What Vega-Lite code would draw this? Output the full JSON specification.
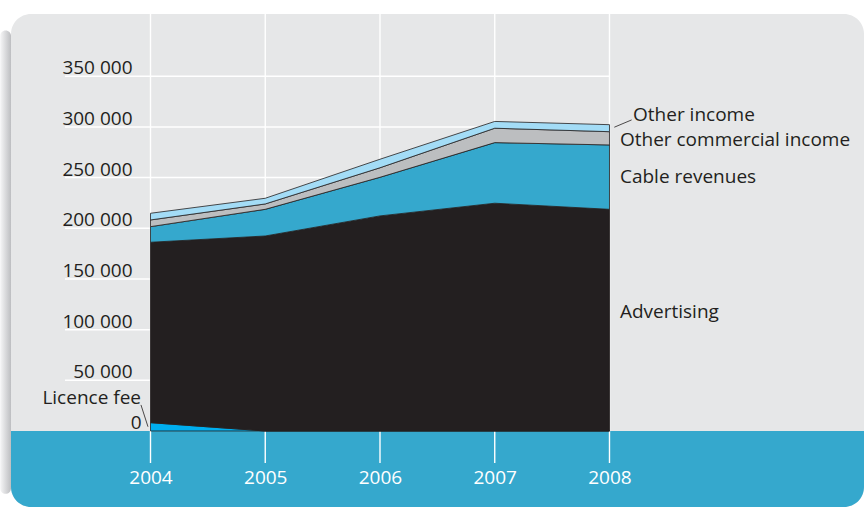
{
  "$schema": "https://vega.github.io/schema/vega-lite/v6.json",
  "width": 853,
  "height": 493,
  "autosize": {"type": "none"},
  "padding": {"left": 11, "top": 14, "right": 0, "bottom": 2},
  "background": "white",
  "config": {
    "view": {"stroke": null, "fill": "#e6e7e8", "cornerRadius": 20},
    "font": "Open Sans",
    "text": {"font": "Open Sans", "fontSize": 19, "color": "#231f20"},
    "axis": {"labelFont": "Open Sans"}
  },
  "datasets": {
    "revenue": [
      {"year": 2004, "series": "Licence fee", "value": 8200},
      {"year": 2005, "series": "Licence fee", "value": 0},
      {"year": 2006, "series": "Licence fee", "value": 0},
      {"year": 2007, "series": "Licence fee", "value": 0},
      {"year": 2008, "series": "Licence fee", "value": 0},
      {"year": 2004, "series": "Advertising", "value": 178000},
      {"year": 2005, "series": "Advertising", "value": 192400},
      {"year": 2006, "series": "Advertising", "value": 212200},
      {"year": 2007, "series": "Advertising", "value": 224700},
      {"year": 2008, "series": "Advertising", "value": 218700},
      {"year": 2004, "series": "Cable revenues", "value": 15400},
      {"year": 2005, "series": "Cable revenues", "value": 26300},
      {"year": 2006, "series": "Cable revenues", "value": 38100},
      {"year": 2007, "series": "Cable revenues", "value": 59800},
      {"year": 2008, "series": "Cable revenues", "value": 63500},
      {"year": 2004, "series": "Other commercial income", "value": 6600},
      {"year": 2005, "series": "Other commercial income", "value": 5300},
      {"year": 2006, "series": "Other commercial income", "value": 9400},
      {"year": 2007, "series": "Other commercial income", "value": 14200},
      {"year": 2008, "series": "Other commercial income", "value": 13100},
      {"year": 2004, "series": "Other income", "value": 6600},
      {"year": 2005, "series": "Other income", "value": 5600},
      {"year": 2006, "series": "Other income", "value": 8400},
      {"year": 2007, "series": "Other income", "value": 6700},
      {"year": 2008, "series": "Other income", "value": 6900}
    ],
    "years": [{"year": 2004}, {"year": 2005}, {"year": 2006}, {"year": 2007}, {"year": 2008}],
    "gridvalues": [{"v": 50000}, {"v": 100000}, {"v": 150000}, {"v": 200000}, {"v": 250000}, {"v": 300000}, {"v": 350000}],
    "one": [{}]
  },
  "layer": [
    {
      "data": {"name": "one"},
      "mark": {"type": "rect", "cornerRadius": 12, "fill": {"x1": 0, "y1": 0, "x2": 1, "y2": 0, "gradient": "linear", "stops": [{"offset": 0, "color": "#f6f6f7"}, {"offset": 1, "color": "#bdbec1"}]}},
      "encoding": {
        "x": {
          "datum": 2002.69,
          "scale": {"domain": [2002.7843, 2010.218], "nice": false, "zero": false},
          "axis": {
            "orient": "bottom", "values": [2004, 2005, 2006, 2007, 2008], "format": "d",
            "labelColor": "white", "labelFontSize": 19, "labelPadding": -30, "labelBaseline": "middle",
            "ticks": false, "tickSize": 0, "domain": false, "grid": false, "title": null,
            "labelFlush": false, "labelOverlap": false, "zindex": 2
          }
        },
        "x2": {"datum": 2002.7843},
        "y": {
          "datum": 395000,
          "scale": {"domain": [-75000, 411400], "nice": false, "zero": false},
          "axis": {
            "orient": "left", "values": [0, 50000, 100000, 150000, 200000, 250000, 300000, 350000],
            "labelExpr": "replace(format(datum.value, ','), ',', ' ')",
            "labelColor": "#231f20", "labelFontSize": 19, "labelAlign": "right", "labelBaseline": "alphabetic",
            "labelOffset": -2.5,
            "labelPadding": {"condition": {"test": "datum.value === 0", "value": -130}, "value": -121},
            "ticks": false, "tickSize": 0, "domain": false, "grid": false, "title": null,
            "labelFlush": false, "labelOverlap": false, "zindex": 2
          }
        },
        "y2": {"datum": -62000}
      }
    },
    {
      "data": {"name": "one"},
      "mark": {"type": "rect", "color": "#35a8cd", "cornerRadiusBottomLeft": 20, "cornerRadiusBottomRight": 20},
      "encoding": {
        "x": {"datum": 2002.7843},
        "x2": {"datum": 2010.218},
        "y": {"datum": 0},
        "y2": {"datum": -75000}
      }
    },
    {
      "data": {"name": "years"},
      "mark": {"type": "rule", "color": "white", "strokeWidth": 1.4},
      "encoding": {
        "x": {"field": "year", "type": "quantitative"},
        "y": {"datum": 411400},
        "y2": {"datum": -31600}
      }
    },
    {
      "data": {"name": "gridvalues"},
      "mark": {"type": "rule", "color": "white", "strokeWidth": 1.5},
      "encoding": {
        "y": {"field": "v", "type": "quantitative"},
        "x": {"datum": 2003.255},
        "x2": {"datum": 2008}
      }
    },
    {
      "data": {"name": "revenue"},
      "transform": [
        {"calculate": "indexof(['Licence fee', 'Advertising', 'Cable revenues', 'Other commercial income', 'Other income'], datum.series)", "as": "stackOrder"}
      ],
      "mark": {"type": "area", "interpolate": "linear", "stroke": "#231f20", "strokeWidth": 0.8, "opacity": 1},
      "encoding": {
        "x": {"field": "year", "type": "quantitative"},
        "y": {"field": "value", "type": "quantitative", "stack": "zero"},
        "order": {"field": "stackOrder", "type": "quantitative", "sort": "ascending"},
        "color": {
          "field": "series", "type": "nominal",
          "scale": {
            "domain": ["Licence fee", "Advertising", "Cable revenues", "Other commercial income", "Other income"],
            "range": ["#00aeef", "#231f20", "#35a8cd", "#bcbec0", "#a3dcf6"]
          },
          "legend": null
        }
      }
    },
    {
      "data": {"name": "one"},
      "mark": {"type": "rule", "color": "#231f20", "strokeWidth": 0.8},
      "encoding": {
        "x": {"datum": 2008.042},
        "y": {"datum": 299700},
        "x2": {"datum": 2008.193},
        "y2": {"datum": 306900}
      }
    },
    {
      "data": {"name": "one"},
      "mark": {"type": "rule", "color": "#231f20", "strokeWidth": 0.8},
      "encoding": {
        "x": {"datum": 2003.917},
        "y": {"datum": 25700},
        "x2": {"datum": 2003.978},
        "y2": {"datum": 4200}
      }
    },
    {
      "data": {"name": "one"},
      "mark": {"type": "text", "align": "left", "baseline": "middle", "text": "Other income"},
      "encoding": {"x": {"datum": 2008.205}, "y": {"datum": 311800}}
    },
    {
      "data": {"name": "one"},
      "mark": {"type": "text", "align": "left", "baseline": "middle", "text": "Other commercial income"},
      "encoding": {"x": {"datum": 2008.091}, "y": {"datum": 287000}}
    },
    {
      "data": {"name": "one"},
      "mark": {"type": "text", "align": "left", "baseline": "middle", "text": "Cable revenues"},
      "encoding": {"x": {"datum": 2008.091}, "y": {"datum": 250300}}
    },
    {
      "data": {"name": "one"},
      "mark": {"type": "text", "align": "left", "baseline": "middle", "text": "Advertising"},
      "encoding": {"x": {"datum": 2008.091}, "y": {"datum": 117400}}
    },
    {
      "data": {"name": "one"},
      "mark": {"type": "text", "align": "right", "baseline": "middle", "text": "Licence fee"},
      "encoding": {"x": {"datum": 2003.917}, "y": {"datum": 32300}}
    }
  ]
}
